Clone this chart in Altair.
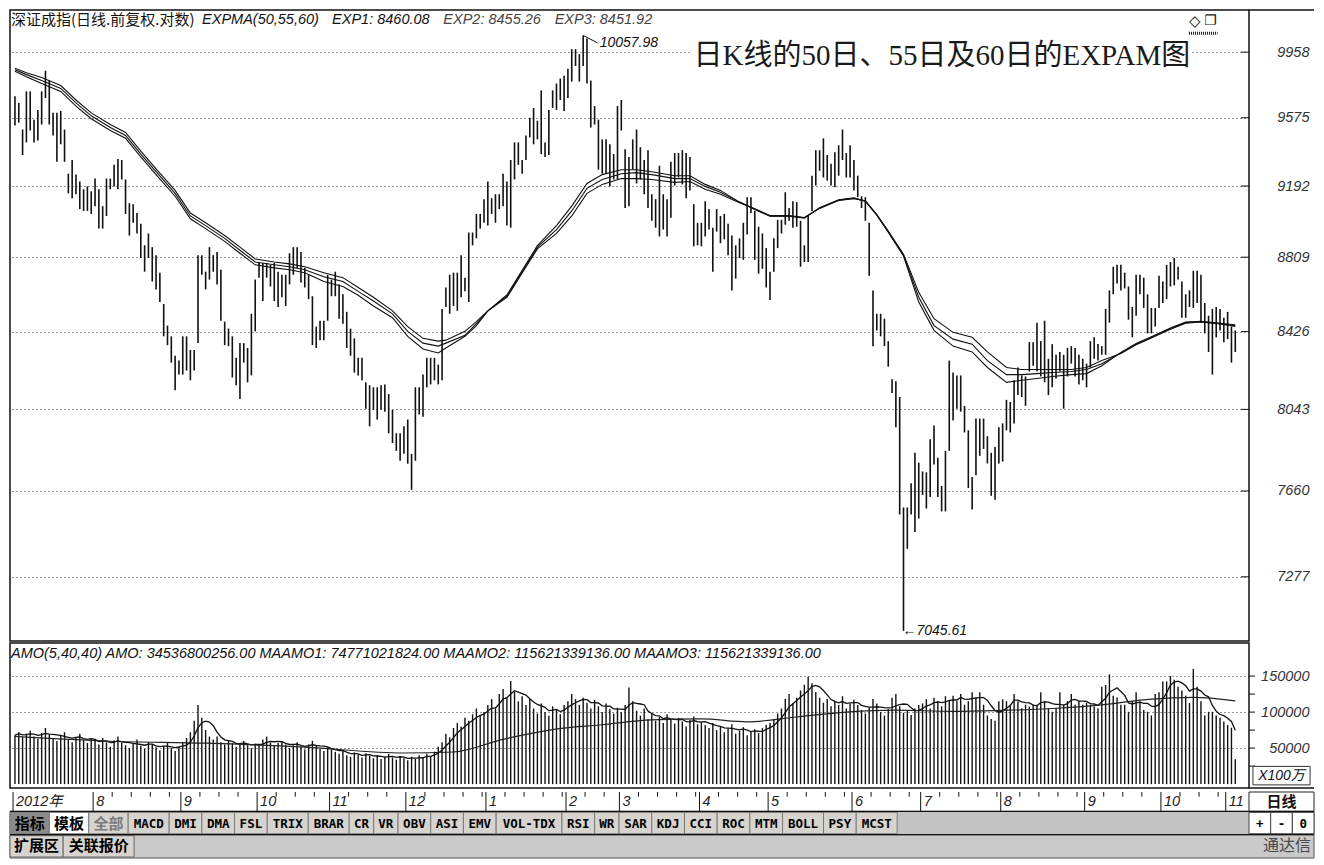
import altair as alt
import pandas as pd

# ---------------- data ----------------
month_labels = ["2012年", "8", "9", "10", "11", "12", "1", "2", "3", "4", "5", "6", "7", "8", "9", "10", "11"]
month_days = [21, 23, 20, 19, 20, 21, 21, 14, 21, 18, 22, 18, 21, 22, 20, 17, 3]

high = [
    9699, 9660, 9508, 9727, 9727, 9564, 9620, 9727, 9848, 9790,
    9603, 9603, 9614, 9508, 9260, 9336, 9255, 9217, 9174, 9190,
    9163, 9233, 9174, 9082, 9233, 9233, 9309, 9342, 9336, 9228,
    9098, 9093, 9045, 8987, 8872, 8935, 8862, 8820, 8728, 8566,
    8456, 8402, 8305, 8281, 8402, 8402, 8334, 8334, 8820, 8820,
    8733, 8862, 8820, 8836, 8743, 8476, 8441, 8402, 8295, 8368,
    8368, 8344, 8516, 8692, 8779, 8779, 8779, 8769, 8779, 8733,
    8717, 8717, 8830, 8862, 8862, 8836, 8753, 8717, 8606, 8451,
    8481, 8481, 8717, 8692, 8733,
    8667, 8616, 8526, 8441, 8392,
    8295, 8295, 8174, 8160, 8150, 8150, 8160, 8164, 8117, 8041,
    7929, 7929, 7962, 7994, 7832, 8150, 8150, 8212, 8295, 8295,
    8295, 8261, 8541, 8651, 8717, 8728, 8728, 8820, 8702, 8940,
    8940, 9040, 9040, 9120, 9217, 9125, 9147, 9147, 9260, 9217,
    9336, 9435, 9435, 9336, 9474, 9575, 9631, 9558, 9733, 9435,
    9620, 9733, 9773, 9802, 9819, 9859, 9976, 9976, 9946, 10057.98,
    10040, 9790, 9642, 9564, 9452, 9452, 9424, 9369, 9642, 9677,
    9397, 9353, 9452, 9508, 9408,
    9336, 9391, 9147, 9120, 9304,
    9147, 9120, 9326, 9375, 9375, 9391, 9375, 9353, 9093, 8992,
    8992, 9109, 9066, 8966, 9066, 9029, 9040, 8987, 8924, 8872,
    8909, 8992, 9131, 9131, 9056, 8971, 8935, 8857, 8733, 8909,
    9008, 9008, 9158, 9072, 9109, 9104, 9003, 8872, 9029, 9249,
    9391, 9391, 9458, 9364, 9315, 9380, 9419, 9508, 9375, 9419,
    9336, 9249, 9136, 9131, 8992, 8636, 8516, 8516, 8491, 8378,
    8189, 8179, 8103, 7585, 7585, 7696, 7837, 7791, 7750, 7746,
    7901, 7966, 7814, 7683, 7846, 8281, 8222, 8208, 8208,
    8060,
    7943, 7724, 7999, 7999, 7999, 7915, 7837, 7864, 7957, 7976,
    8089, 8079, 8184, 8247, 8208, 8203, 8373, 8373, 8471, 8378,
    8481, 8290, 8363, 8310, 8324, 8310, 8344, 8353, 8344, 8310,
    8290, 8266, 8378, 8397, 8363, 8353, 8541, 8636, 8759, 8769,
    8769, 8728, 8656, 8551, 8717, 8717, 8702, 8616, 8546, 8546,
    8712, 8682, 8769, 8784, 8805, 8759, 8682, 8616, 8636, 8738,
    8738, 8717, 8571, 8506, 8541, 8551, 8541, 8496, 8526, 8451,
    8432,
]

low = [
    9530, 9547, 9364, 9435, 9502, 9435, 9446, 9536, 9688, 9536,
    9474, 9326, 9424, 9326, 9152, 9125, 9147, 9066, 9056, 9056,
    9040, 9082, 8961, 8961, 9029, 9174, 9190, 9174, 9228, 9040,
    8924, 8992, 8935, 8805, 8733, 8805, 8682, 8641, 8576, 8402,
    8358, 8271, 8136, 8212, 8212, 8232, 8184, 8232, 8368, 8717,
    8641, 8692, 8733, 8667, 8481, 8358, 8353, 8198, 8160, 8093,
    8271, 8174, 8208, 8427, 8702, 8581, 8702, 8656, 8581, 8551,
    8601, 8556, 8667, 8717, 8753, 8677, 8651, 8591, 8358, 8344,
    8383, 8383, 8481, 8606, 8606,
    8491, 8466, 8344, 8305, 8222,
    8208, 8184, 8046, 7962, 8041, 7994, 8041, 8032, 7929, 7883,
    7846, 7800, 7832, 7786, 7665, 7800, 8018, 8008, 8150, 8164,
    8184, 8164, 8184, 8551, 8516, 8556, 8531, 8601, 8631, 8576,
    8872, 8909, 8961, 8992, 8977, 9040, 8992, 9066, 9082, 8977,
    8966, 9228, 9309, 9260, 9336, 9463, 9424, 9452, 9369, 9353,
    9364, 9631, 9620, 9677, 9614, 9688, 9784, 9876, 9784, 9876,
    9773, 9519, 9536, 9282, 9260, 9260, 9190, 9228, 9228, 9502,
    9072, 9082, 9282, 9206, 9228,
    9147, 9072, 9003, 8966, 8919,
    8956, 8919, 9019, 9195, 9239, 9201, 9125, 9168, 8867, 8872,
    8867, 8919, 8956, 8733, 8945, 8883, 8904, 8820, 8636, 8697,
    8805, 8795, 8930, 9045, 8795, 8723, 8748, 8651, 8586, 8733,
    8857, 8935, 8982, 9003, 8966, 8971, 8759, 8784, 8784, 9056,
    9195, 9276, 9239, 9222, 9195, 9185, 9249, 9336, 9239, 9239,
    9168, 9131, 9072, 9003, 8712, 8353, 8432, 8402, 8353, 8251,
    8122, 7957, 7553, 7045.61, 7400, 7553, 7474, 7535, 7642, 7580,
    7633, 7782, 7633, 7567, 7567, 7846, 7990, 8046, 8032,
    7933,
    7674, 7576, 7732, 7823, 7855, 7787, 7638, 7620, 7787, 7796,
    7943, 7933, 7976, 8112, 8103, 8060, 8227, 8256, 8227, 8203,
    8174, 8112, 8150, 8193, 8227, 8046, 8203, 8266, 8203, 8164,
    8184, 8150, 8247, 8290, 8281, 8310, 8310, 8471, 8616, 8672,
    8636, 8646, 8486, 8397, 8506, 8616, 8546, 8417, 8417, 8451,
    8546, 8571, 8591, 8656, 8662, 8692, 8496, 8496, 8551, 8546,
    8571, 8471, 8417, 8324, 8212, 8397, 8432, 8373, 8388, 8271,
    8324,
]

# daily turnover, in units of 100万 (x 1,000,000 yuan)
amo = [
    68000, 72000, 65000, 70000, 74000, 66000, 63000, 71000, 78000, 69000, 64000,
    60000, 67000, 72000, 62000, 58000, 65000, 70000, 61000, 57000, 63000,
    60000, 55000, 64000, 58000, 52000, 61000, 66000, 57000, 54000, 50000, 56000,
    62000, 53000, 49000, 58000, 55000, 51000, 47000, 53000, 57000, 50000, 46000, 52000,
    58000, 64000, 72000, 88000, 110000, 92000, 75000, 66000, 62000, 66000,
    58000, 55000, 61000, 57000, 52000, 56000, 60000, 54000, 50000, 56000,
    55000, 62000, 66000, 58000, 53000, 57000, 60000, 55000, 50000, 54000,
    58000, 52000, 48000, 55000, 60000, 53000, 49000, 46000, 51000, 48000,
    45000, 42000, 47000, 40000, 38000, 44000, 41000, 37000, 43000, 39000,
    36000, 40000, 35000, 38000, 42000, 37000, 34000, 39000, 36000, 33000,
    38000, 35000, 40000, 37000, 42000, 39000, 45000, 52000, 58000,
    70000, 65000, 78000, 85000, 80000, 92000, 88000, 97000, 105000, 95000, 100000,
    110000, 118000, 105000, 125000, 132000, 120000, 143000, 128000, 115000, 122000, 110000, 118000,
    105000, 98000, 112000, 100000, 95000, 108000, 103000, 97000, 110000, 115000,
    125000, 118000, 110000, 120000, 113000, 105000, 117000, 108000, 100000, 112000, 104000, 98000, 106000,
    100000, 110000, 134000, 115000, 102000, 95000, 105000, 90000, 98000, 88000, 93000,
    85000, 97000, 90000, 84000, 92000, 87000, 80000, 89000, 94000, 83000, 86000,
    82000, 78000, 85000, 75000, 80000, 72000, 77000, 83000, 70000,
    74000, 79000, 68000, 73000, 76000, 71000, 78000, 82000, 85000,
    90000, 98000, 105000, 118000, 125000, 112000, 120000, 130000, 138000, 149000, 140000, 128000,
    120000, 113000, 118000, 108000, 115000, 110000, 122000, 105000, 112000, 117000,
    110000, 103000, 98000, 106000, 118000, 112000, 100000, 95000, 104000,
    120000, 125000, 108000, 99000, 102000, 96000, 105000, 110000,
    112000, 118000, 105000, 120000, 115000, 108000, 122000, 116000,
    122700, 115200, 125200, 110200, 115200, 127600, 120200, 127600, 110200, 95300,
    90400, 87900, 115200, 117700, 115200, 110200, 125200, 115200, 105300, 110200,
    107800, 110200, 110200, 127600, 115200, 105300, 100300, 105300, 127600, 110200,
    115200, 125200, 110200, 115200, 110200, 112700, 110200, 107800, 105300, 135100,
    137600, 152400, 122700, 120200, 110200, 110200, 100300, 115200, 127600, 115200,
    102800, 100300, 95300, 125200, 127600, 142500, 142500, 150000, 145000, 135100,
    130100, 122700, 112700, 159900, 135100, 115200, 95300, 100300, 100300, 95300,
    92000, 87000, 82000, 78318, 34537,
]

exp_day = [0, 3, 7, 12, 16, 20, 25, 29, 33, 37, 42, 46, 50, 55, 59, 63, 68, 72, 76, 81,
           86, 90, 94, 99, 103, 107, 111, 113, 118, 121, 124, 129, 133, 137, 142, 146, 150,
           154, 159, 163, 167, 173, 177, 181, 185, 190, 194, 198, 203, 207, 211, 216, 220,
           223, 226, 229, 233, 237, 241, 246, 251, 255, 260, 264, 268, 272, 277, 281, 285,
           290, 294, 298, 303, 307, 311, 316, 320]
exp1 = [9845, 9813, 9773, 9727, 9642, 9569, 9502, 9458, 9353, 9255,
        9136, 9014, 8961, 8893, 8830, 8769, 8753, 8743, 8728, 8682,
        8656, 8611, 8556, 8496, 8402, 8339, 8319, 8344, 8402, 8456,
        8531, 8612, 8740, 8870, 8977, 9082, 9206, 9255, 9282, 9282,
        9271, 9249, 9249, 9201, 9168, 9104, 9064, 9027, 9027, 9017,
        9074, 9117, 9127, 9109, 9033, 8942, 8815, 8576, 8432, 8353,
        8324, 8247, 8174, 8184, 8193, 8203, 8212, 8217, 8256, 8322,
        8366, 8400, 8444, 8474, 8478, 8468, 8460.08]
exp2 = [9853, 9825, 9790, 9744, 9660, 9586, 9519, 9474, 9369, 9271,
        9152, 9029, 8977, 8909, 8846, 8784, 8769, 8759, 8743, 8707,
        8682, 8631, 8581, 8516, 8427, 8368, 8353, 8368, 8407, 8466,
        8531, 8606, 8733, 8862, 8956, 9056, 9179, 9228, 9260, 9266,
        9255, 9233, 9233, 9190, 9158, 9104, 9066, 9029, 9029, 9019,
        9072, 9115, 9125, 9109, 9035, 8945, 8820, 8601, 8456, 8388,
        8363, 8281, 8212, 8212, 8217, 8222, 8227, 8237, 8266, 8319,
        8363, 8397, 8441, 8471, 8476, 8466, 8455.26]
exp3 = [9862, 9836, 9808, 9761, 9677, 9603, 9536, 9491, 9386, 9287,
        9168, 9045, 8992, 8924, 8862, 8800, 8784, 8774, 8759, 8728,
        8702, 8651, 8601, 8531, 8451, 8392, 8378, 8383, 8427, 8476,
        8531, 8600, 8726, 8853, 8935, 9029, 9152, 9201, 9233, 9233,
        9228, 9212, 9217, 9174, 9147, 9100, 9068, 9031, 9031, 9021,
        9070, 9113, 9123, 9111, 9037, 8948, 8825, 8626, 8491, 8422,
        8397, 8324, 8247, 8237, 8237, 8237, 8237, 8247, 8281, 8316,
        8360, 8394, 8438, 8468, 8474, 8464, 8451.92]

ma40_day = [0, 25, 50, 76, 102, 115, 128, 141, 154, 167, 180, 192, 205, 218, 231, 246, 257, 272, 285, 298, 309, 320]
ma40 = [66200, 59500, 56800, 51400, 43200, 44600, 62200, 75700, 82400, 89200, 90500, 86500,
        93200, 100000, 102700, 101000, 102000, 105000, 110000, 118000, 120300, 115621]

price_ticks = [7277, 7660, 8043, 8426, 8809, 9192, 9575, 9958]
amo_ticks = [50000, 100000, 150000]
amo_minor_ticks = [25000, 50000, 75000, 100000, 125000, 150000]

title_text = "深证成指(日线.前复权.对数)"
amo_title = ("AMO(5,40,40) AMO: 34536800256.00 MAAMO1: 74771021824.00 "
             "MAAMO2: 115621339136.00 MAAMO3: 115621339136.00")
note_text = "日K线的50日、55日及60日的EXPAM图"
tab_labels = ["指标", "模板", "全部", "MACD", "DMI", "DMA", "FSL", "TRIX", "BRAR", "CR", "VR",
              "OBV", "ASI", "EMV", "VOL-TDX", "RSI", "WR", "SAR", "KDJ", "CCI", "ROC", "MTM",
              "BOLL", "PSY", "MCST"]
button_labels = ["+", "-", "0"]
bottom_tab_labels = ["扩展区", "关联报价"]

# ---------------- layout ----------------
SX = 1304 / 1324
SY = 842 / 865
W = round(1258 * SX)
H_TOP = round(648 * SY)
H_VOL = round(149 * SY)
H_BOT = 842 - H_TOP - H_VOL


def px(x):
    return x * SX


def ty(y):
    return y * SY


def vy(y):
    return y * SY - H_TOP


def by(y):
    return y * SY - H_TOP - H_VOL


SANS = "Liberation Sans, Arial, Noto Sans CJK SC, sans-serif"
CJK = "Noto Sans CJK SC, sans-serif"
SERIF = "Liberation Serif, Noto Sans CJK SC, serif"
MONO = "DejaVu Sans Mono, monospace"
INK = "#111111"


def txt(s, x, y, size=14, color=INK, font=SANS, style="normal", weight="normal",
        align="left", baseline="middle"):
    return alt.Chart(pd.DataFrame({"t": [s]})).mark_text(
        align=align, baseline=baseline, fontSize=size, font=font, fontStyle=style,
        fontWeight=weight, color=color
    ).encode(text="t:N", x=alt.value(x), y=alt.value(y))


def box(x0, x1, y0, y1, fill="#ffffff", stroke=INK, sw=1.0):
    return alt.Chart(pd.DataFrame({"a": [0]})).mark_rect(
        fill=fill, stroke=stroke, strokeWidth=sw
    ).encode(x=alt.value(x0), x2=alt.value(x1), y=alt.value(y0), y2=alt.value(y1))


def seg(x0, x1, y0, y1, color=INK, sw=1.0, dash=None):
    kw = dict(color=color, strokeWidth=sw)
    if dash:
        kw["strokeDash"] = dash
    return alt.Chart(pd.DataFrame({"a": [0]})).mark_rule(**kw).encode(
        x=alt.value(x0), x2=alt.value(x1), y=alt.value(y0), y2=alt.value(y1))


def right_axis(values):
    return alt.Axis(
        orient="right", values=values, grid=True, gridDash=[1, 3], gridColor="#333333",
        gridWidth=1, domain=False, ticks=False, labelPadding=60, labelAlign="right",
        labelBaseline="middle", labelFont=SANS, labelFontStyle="italic", labelFontSize=14.5,
        labelColor="#333333", format="d", title=None, labelOverlap=False,
    )


n = min(len(high), len(low), len(amo))
bars = pd.DataFrame({"day": list(range(n)), "high": high[:n], "low": low[:n], "amo": amo[:n]})

xs = alt.Scale(domain=[-1.3, 323.6], nice=False, zero=False)
X = alt.X("day:Q", scale=xs, axis=None)

# ---------------- price panel ----------------
ys = alt.Scale(type="log", domain=[7003, 10212], nice=False, zero=False)
PAX = right_axis(price_ticks)

bars_layer = alt.Chart(bars).mark_rule(color=INK, strokeWidth=1.6).encode(
    x=X, y=alt.Y("low:Q", scale=ys, axis=PAX), y2="high:Q")

exp_df = pd.DataFrame({"day": exp_day, "EXP1": exp1, "EXP2": exp2, "EXP3": exp3}).melt(
    "day", var_name="series", value_name="value")
exp_layer = alt.Chart(exp_df).mark_line(color=INK, strokeWidth=1.1).encode(
    x=X, y=alt.Y("value:Q", scale=ys, axis=PAX), detail="series:N")

ptick_layer = alt.Chart(pd.DataFrame({"v": price_ticks})).mark_rule(color=INK, strokeWidth=1).encode(
    y=alt.Y("v:Q", scale=ys, axis=PAX), x=alt.value(W - 8), x2=alt.value(W))

pk = max(range(n), key=lambda i: high[i])
lo = min(range(n), key=lambda i: low[i])
peak_df = pd.DataFrame({"day": [pk], "v": [high[pk]], "day2": [pk + 3.8], "v2": [high[pk] * 0.9955],
                        "label": [f"{high[pk]:.2f}"]})
peak_rule = alt.Chart(peak_df).mark_rule(color=INK, strokeWidth=1).encode(
    x=alt.X("day:Q", scale=xs, axis=None), x2="day2:Q",
    y=alt.Y("v:Q", scale=ys, axis=PAX), y2="v2:Q")
peak_text = alt.Chart(peak_df).mark_text(
    align="left", baseline="middle", dx=2, fontSize=14, font=SANS, fontStyle="italic", color=INK
).encode(x=alt.X("day2:Q", scale=xs, axis=None), y=alt.Y("v2:Q", scale=ys, axis=PAX), text="label:N")

low_df = pd.DataFrame({"day": [lo], "v": [low[lo]], "label": ["←" + f"{low[lo]:.2f}"]})
low_text = alt.Chart(low_df).mark_text(
    align="left", baseline="middle", dx=-1, fontSize=14, font=SANS, fontStyle="italic", color=INK
).encode(x=alt.X("day:Q", scale=xs, axis=None), y=alt.Y("v:Q", scale=ys, axis=PAX), text="label:N")

top = alt.layer(
    bars_layer, exp_layer, ptick_layer, peak_rule, peak_text, low_text,
    box(px(690), px(1198), ty(31), ty(63), fill="#ffffff", stroke="#ffffff", sw=0),
    txt(note_text, px(694), ty(47), size=29, font=SERIF, color="#1a1a1a"),
    txt(title_text, px(1), ty(10), size=15, font=CJK),
    txt("EXPMA(50,55,60)", px(195), ty(10), size=14.5, style="italic"),
    txt(f"EXP1: {exp1[-1]:.2f}", px(327), ty(10), size=14.5, style="italic"),
    txt(f"EXP2: {exp2[-1]:.2f}", px(440), ty(10), size=14.5, style="italic", color="#444444"),
    txt(f"EXP3: {exp3[-1]:.2f}", px(553), ty(10), size=14.5, style="italic", color="#444444"),
    txt("◇", px(1203), ty(11), size=15, font="DejaVu Sans", align="center"),
    txt("❐", px(1219), ty(11), size=14, font="DejaVu Sans", align="center"),
    seg(px(1197), px(1226), ty(24), ty(24), sw=3, dash=[1, 1]),
    seg(W, px(1324), 0, 0, sw=1.5),
).properties(width=W, height=H_TOP)

# ---------------- turnover panel ----------------
vs = alt.Scale(domain=[-5400, 195900], nice=False, zero=False)
VAX = right_axis(amo_ticks)
vol_bars = alt.Chart(bars).mark_rule(color=INK, strokeWidth=1.4).encode(
    x=X, y=alt.Y("amo:Q", scale=vs, axis=VAX), y2=alt.datum(0))
ma5_layer = alt.Chart(bars).transform_window(
    ma5="mean(amo)", frame=[-4, 0], sort=[alt.SortField("day", order="ascending")]
).mark_line(color=INK, strokeWidth=1.3).encode(x=X, y=alt.Y("ma5:Q", scale=vs, axis=VAX))
ma40_layer = alt.Chart(pd.DataFrame({"day": ma40_day, "v": ma40})).mark_line(
    color="#222222", strokeWidth=1.2, interpolate="monotone"
).encode(x=X, y=alt.Y("v:Q", scale=vs, axis=VAX))
vtick_layer = alt.Chart(pd.DataFrame({"v": amo_minor_ticks})).mark_rule(color=INK, strokeWidth=1).encode(
    y=alt.Y("v:Q", scale=vs, axis=VAX), x=alt.value(W), x2=alt.value(W + 6))

vol = alt.layer(
    vol_bars, ma5_layer, ma40_layer, vtick_layer,
    txt(amo_title, px(1), vy(660), size=14.5, style="italic"),
    box(px(1262), px(1320), vy(775), vy(794), fill="#ffffff", stroke="#333333", sw=1),
    txt("X100万", px(1291), vy(785), size=14, style="italic", align="center"),
    seg(W, px(1324), H_VOL, H_VOL, sw=1.5),
).properties(width=W, height=H_VOL)

# ---------------- date strip + toolbar ----------------
starts = []
acc = 0
for d in month_days:
    starts.append(acc)
    acc += d
months = pd.DataFrame({"ms": [s - 0.5 for s in starts], "label": month_labels})
weeks = pd.DataFrame({"ws": [s + k - 0.5 for s, d in zip(starts[1:], month_days[1:])
                             for k in range(5, d, 5)]})

pxs = alt.Scale(domain=[0, 1324], range=[0, 1304], nice=False, zero=False)
pys = alt.Scale(domain=[797, 865], range=[0, H_BOT], nice=False, zero=False)

rects = [
    dict(x0=0, x1=1258, y0=797, y1=817, fill="#ffffff", stroke="#ffffff"),
    dict(x0=1258, x1=1324, y0=797, y1=817, fill="#ffffff", stroke="#222222"),
    dict(x0=0, x1=1324, y0=817, y1=841, fill="#c3c3c3", stroke="#555555"),
    dict(x0=0, x1=1324, y0=841, y1=865, fill="#c9c9c9", stroke="#555555"),
]
tab_text = []
xcur = 0.0
for i, lab in enumerate(tab_labels):
    cjk = any(ord(c) > 127 for c in lab)
    w = 40.0 if cjk else 8.4 * len(lab) + 8
    fill = "#8a8a8a" if i == 0 else ("#ffffff" if i == 1 else "#d7d4cf")
    color = "#7a7a7a" if i == 2 else "#000000"
    rects.append(dict(x0=xcur, x1=xcur + w, y0=818, y1=840, fill=fill, stroke="#7a7a7a"))
    tab_text.append(dict(xc=xcur + w / 2, yc=829.5, label=lab, cjk=cjk, color=color))
    xcur += w
for i, lab in enumerate(button_labels):
    x0 = 1258 + 22 * i
    rects.append(dict(x0=x0, x1=x0 + 22, y0=818, y1=840, fill="#ffffff", stroke="#444444"))
    tab_text.append(dict(xc=x0 + 11, yc=829.5, label=lab, cjk=False, color="#000000"))
xcur = 0.0
for lab in bottom_tab_labels:
    w = 18.0 * len(lab)
    rects.append(dict(x0=xcur, x1=xcur + w, y0=842, y1=864, fill="#d7d4cf", stroke="#6a6a6a"))
    tab_text.append(dict(xc=xcur + w / 2, yc=853, label=lab, cjk=True, color="#000000"))
    xcur += w
rect_df = pd.DataFrame(rects)
text_df = pd.DataFrame(tab_text)

rect_layer = alt.Chart(rect_df).mark_rect(strokeWidth=1).encode(
    x=alt.X("x0:Q", scale=pxs, axis=None), x2="x1:Q",
    y=alt.Y("y0:Q", scale=pys, axis=None), y2="y1:Q",
    fill=alt.Fill("fill:N", scale=None), stroke=alt.Stroke("stroke:N", scale=None))
cjk_text = alt.Chart(text_df[text_df["cjk"]]).mark_text(
    font=CJK, fontSize=15, fontWeight="bold", baseline="middle", align="center"
).encode(x=alt.X("xc:Q", scale=pxs, axis=None), y=alt.Y("yc:Q", scale=pys, axis=None),
         text="label:N", color=alt.Color("color:N", scale=None))
mono_text = alt.Chart(text_df[~text_df["cjk"]]).mark_text(
    font=MONO, fontSize=12.5, fontWeight="bold", baseline="middle", align="center"
).encode(x=alt.X("xc:Q", scale=pxs, axis=None), y=alt.Y("yc:Q", scale=pys, axis=None),
         text="label:N", color=alt.Color("color:N", scale=None))

month_rules = alt.Chart(months).mark_rule(color=INK, strokeWidth=1).encode(
    x=alt.X("ms:Q", scale=xs, axis=None), y=alt.value(0), y2=alt.value(by(817)))
week_ticks = alt.Chart(weeks).mark_rule(color=INK, strokeWidth=1).encode(
    x=alt.X("ws:Q", scale=xs, axis=None), y=alt.value(0), y2=alt.value(by(802)))
month_text = alt.Chart(months).mark_text(
    align="left", baseline="middle", dx=3, font=SANS, fontSize=14.5, fontStyle="italic", color="#222222"
).encode(x=alt.X("ms:Q", scale=xs, axis=None), y=alt.value(by(807.5)), text="label:N")

bottom = alt.layer(
    rect_layer, month_rules, week_ticks, month_text, cjk_text, mono_text,
    txt("日线", px(1291), by(807.5), size=15, font=CJK, weight="bold", align="center"),
    txt("通达信", px(1321), by(853), size=16, font=CJK, color="#4a4a4a", align="right"),
    seg(0, px(1324), by(817), by(817), sw=1.2),
    seg(0, px(1324), by(841), by(841), sw=1.2),
).resolve_scale(x="independent").properties(
    width=W, height=H_BOT, view=alt.ViewBackground(stroke="transparent"))

chart = alt.vconcat(top, vol, bottom, spacing=0).resolve_scale(
    x="independent", y="independent"
).properties(padding=0, background="white").configure_view(stroke=INK, strokeWidth=1.5)

chart.save("out.html", embed_options={"renderer": "svg", "actions": False})
